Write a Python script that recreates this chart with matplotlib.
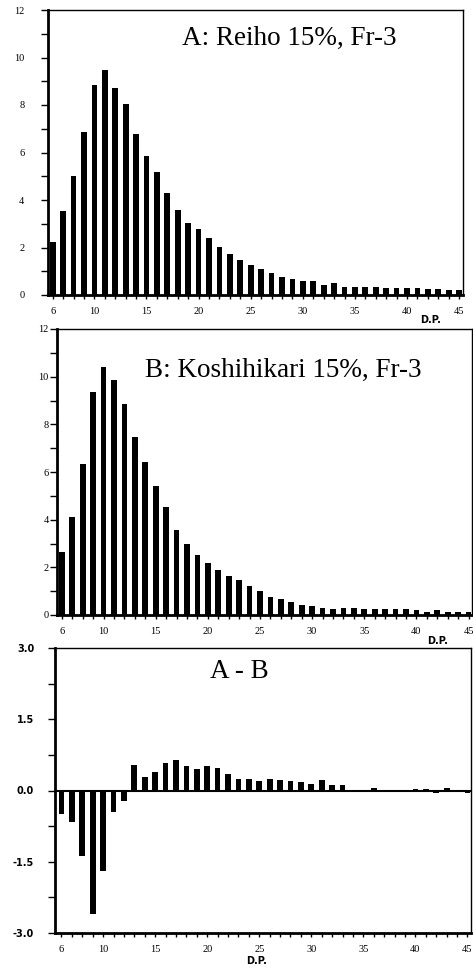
import matplotlib
matplotlib.use("Agg")
import matplotlib.pyplot as plt
import numpy as np

# degree of polymerisation
dp = list(range(6, 46))

# A: Reiho 15%, Fr-3
reiho = [2.25, 3.52, 5.02, 6.85, 8.83, 9.46, 8.73, 8.06, 6.76, 5.84,
         5.16, 4.29, 3.56, 3.03, 2.79, 2.41, 2.01, 1.73, 1.49, 1.25,
         1.09, 0.91, 0.77, 0.67, 0.58, 0.58, 0.44, 0.49, 0.32, 0.32,
         0.34, 0.34, 0.28, 0.28, 0.28, 0.28, 0.24, 0.24, 0.20, 0.20]

# B: Koshihikari 15%, Fr-3
koshi = [2.65, 4.10, 6.32, 9.36, 10.41, 9.84, 8.87, 7.48, 6.41, 5.40,
         4.53, 3.56, 2.98, 2.51, 2.20, 1.87, 1.64, 1.45, 1.21, 1.01,
         0.77, 0.67, 0.53, 0.44, 0.38, 0.28, 0.24, 0.28, 0.28, 0.24,
         0.24, 0.24, 0.24, 0.24, 0.20, 0.14, 0.20, 0.14, 0.14, 0.14]

# A - B
diff = [-0.49, -0.66, -1.38, -2.59, -1.70, -0.46, -0.22, 0.54, 0.28, 0.40,
        0.57, 0.64, 0.52, 0.45, 0.52, 0.47, 0.35, 0.24, 0.24, 0.20,
        0.25, 0.22, 0.20, 0.17, 0.14, 0.23, 0.11, 0.11, 0.0, -0.02,
        0.06, 0.0, -0.02, -0.02, 0.04, 0.04, -0.05, 0.06, -0.03, -0.05]

xlabels = [6, 10, 15, 20, 25, 30, 35, 40, 45]

W, H = 473, 967
fig = plt.figure(figsize=(W / 100, H / 100), dpi=100)
serif = "Liberation Serif"


def px_axes(left, top, right, bottom):
    return fig.add_axes([left / W, 1 - bottom / H, (right - left) / W, (bottom - top) / H])


def style(ax, xlim):
    ax.set_xlim(*xlim)
    ax.set_xticks(dp, minor=True)
    ax.set_xticks(xlabels)
    ax.set_xticklabels([str(v) for v in xlabels], fontfamily=serif, fontsize=7.5)
    ax.tick_params(axis="x", which="both", direction="out", length=3, width=1, pad=6)
    ax.tick_params(axis="y", which="both", direction="out", length=5, width=1)
    for s in ["left", "bottom"]:
        ax.spines[s].set_linewidth(2)
    for s in ["top", "right"]:
        ax.spines[s].set_linewidth(1)


# panel A
ax1 = px_axes(48, 10, 463, 295)
ax1.bar(dp, reiho, width=0.55, color="black")
style(ax1, (5.55, 45.37))
ax1.set_ylim(0, 12)
ax1.set_yticks(range(0, 13, 2))
ax1.set_yticks(range(1, 12, 2), minor=True)
ax1.set_yticklabels([str(v) for v in range(0, 13, 2)], fontfamily=serif, fontsize=7.5)
ax1.tick_params(axis="y", pad=12)
ax1.text(0.323, 0.945, "A: Reiho 15%, Fr-3", transform=ax1.transAxes,
         fontfamily=serif, fontsize=19.5, va="top", ha="left")
fig.text(431 / W, 1 - 320 / H, "D.P.", fontsize=7, fontweight="bold", ha="center", va="center")

# panel B
ax2 = px_axes(57, 329, 472, 615)
ax2.bar(dp, koshi, width=0.55, color="black")
style(ax2, (5.54, 45.33))
ax2.set_ylim(0, 12)
ax2.set_yticks(range(0, 13, 2))
ax2.set_yticks(range(1, 12, 2), minor=True)
ax2.set_yticklabels([str(v) for v in range(0, 13, 2)], fontfamily=serif, fontsize=7.5)
ax2.tick_params(axis="y", pad=1)
ax2.text(0.212, 0.9, "B: Koshihikari 15%, Fr-3", transform=ax2.transAxes,
         fontfamily=serif, fontsize=19.5, va="top", ha="left")
fig.text(438 / W, 1 - 641 / H, "D.P.", fontsize=7, fontweight="bold", ha="center", va="center")

# panel C
ax3 = px_axes(55, 648, 471, 933)
ax3.bar(dp, diff, width=0.55, color="black")
style(ax3, (5.38, 45.34))
ax3.set_ylim(-3, 3)
ax3.set_yticks([-3, -1.5, 0, 1.5, 3])
ax3.set_yticks(np.arange(-3, 3.01, 0.75), minor=True)
ax3.set_yticklabels(["-3.0", "-1.5", "0.0", "1.5", "3.0"], fontsize=7, fontweight="bold")
ax3.tick_params(axis="y", pad=10)
ax3.axhline(0, color="black", linewidth=1.5)
ax3.text(0.373, 0.96, "A - B", transform=ax3.transAxes,
         fontfamily=serif, fontsize=19.5, va="top", ha="left")
fig.text(257 / W, 1 - 961 / H, "D.P.", fontsize=7, fontweight="bold", ha="center", va="center")

fig.savefig("out.png", dpi=100)
